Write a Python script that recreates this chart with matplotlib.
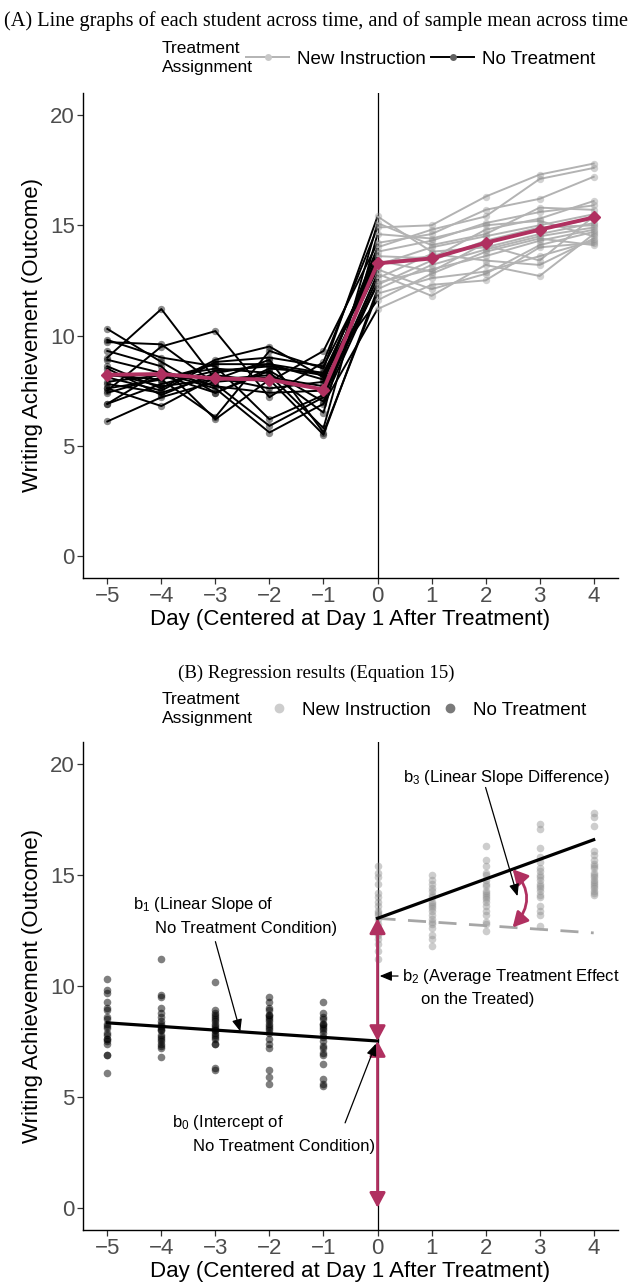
import numpy as np
import matplotlib
matplotlib.use("Agg")
import matplotlib.pyplot as plt
from matplotlib.lines import Line2D

plt.rcParams["font.family"] = ["Liberation Sans", "DejaVu Sans"]
plt.rcParams["mathtext.fontset"] = "custom"
plt.rcParams["mathtext.rm"] = "Liberation Sans"
plt.rcParams["mathtext.it"] = "Liberation Sans:italic"

# days centered at day 1 after treatment
days = [-5, -4, -3, -2, -1, 0, 1, 2, 3, 4]

# writing achievement of each of the 20 students, one list per day
score_m5 = [8.6, 10.3, 7.5, 9.0, 6.1, 8.2, 9.8, 7.8, 8.9, 6.9, 9.3, 7.6, 8.1, 9.7, 7.4, 8.5, 6.9, 8.3, 7.9, 7.6]
score_m4 = [7.6, 8.8, 9.5, 11.2, 7.2, 8.0, 9.0, 7.4, 8.3, 7.8, 8.6, 6.8, 7.5, 9.6, 8.1, 7.3, 8.4, 7.7, 8.2, 8.0]
score_m3 = [8.9, 7.4, 10.2, 8.0, 7.9, 6.3, 8.6, 8.2, 7.6, 8.4, 6.2, 8.1, 8.8, 7.8, 8.5, 8.3, 7.7, 8.0, 7.4, 8.7]
score_m2 = [9.5, 8.4, 7.2, 8.9, 8.1, 9.3, 6.2, 7.9, 5.6, 8.6, 8.0, 7.6, 9.0, 5.9, 8.3, 8.7, 7.4, 8.2, 8.5, 8.7]
score_m1 = [8.1, 7.0, 8.8, 5.6, 7.7, 8.5, 7.3, 9.3, 6.9, 8.2, 5.5, 7.9, 8.6, 7.2, 6.5, 8.0, 7.5, 5.8, 8.3, 8.3]
score_0 = [13.8, 12.4, 14.9, 11.9, 13.2, 15.4, 12.8, 14.2, 11.2, 13.6, 12.1, 14.0, 13.4, 12.6, 15.1, 13.0, 12.3, 14.6, 11.6, 13.3]
score_1 = [14.3, 13.0, 15.0, 12.6, 14.0, 13.8, 11.8, 14.6, 12.3, 13.5, 13.2, 14.8, 12.9, 13.7, 14.1, 12.1, 13.4, 14.4, 12.8, 13.6]
score_2 = [15.1, 13.6, 16.3, 12.9, 14.5, 14.0, 13.2, 15.7, 12.5, 14.8, 13.9, 15.4, 14.2, 13.4, 14.6, 12.8, 14.3, 15.0, 13.8, 14.1]
score_3 = [15.6, 14.3, 17.3, 13.6, 15.0, 14.6, 12.7, 16.2, 14.0, 15.3, 14.5, 17.1, 14.8, 13.2, 15.8, 14.1, 14.9, 15.2, 14.4, 13.4]
score_4 = [15.9, 14.8, 17.8, 14.3, 15.5, 15.1, 14.6, 17.2, 14.2, 16.1, 14.9, 17.6, 15.3, 14.4, 15.7, 14.7, 15.0, 14.5, 14.1, 15.4]

# regression coefficients (Equation 15)
b0, b1, b2, b3 = 7.52, -0.164, 5.53, 1.05

scores = np.array([score_m5, score_m4, score_m3, score_m2, score_m1,
                   score_0, score_1, score_2, score_3, score_4])
days_arr = np.array(days, dtype=float)
mean_score = scores.mean(axis=1)

MAROON = "#B03060"
LIGHT = "#B3B3B3"
W, H = 632, 1282


def box(left, top, right, bottom):
    return [left / W, 1 - bottom / H, (right - left) / W, (bottom - top) / H]


def style(ax):
    ax.set_xlim(-5.45, 4.45)
    ax.set_ylim(-1, 21)
    ax.set_xticks(days)
    ax.set_yticks([0, 5, 10, 15, 20])
    for s in ["top", "right"]:
        ax.spines[s].set_visible(False)
    for s in ["left", "bottom"]:
        ax.spines[s].set_linewidth(1.0)
    ax.tick_params(length=4, width=0.9, color="#333333", labelsize=16,
                   labelcolor="#4D4D4D", pad=2)
    ax.set_xlabel("Day (Centered at Day 1 After Treatment)", fontsize=16, labelpad=1)
    ax.set_ylabel("Writing Achievement (Outcome)", fontsize=16, labelpad=5)
    ax.axvline(0, color="black", lw=0.9, zorder=1)


def legend_title(y_px):
    fig.text(162 / W, 1 - y_px / H, "Treatment\nAssignment", ha="left", va="center",
             fontsize=12.5, linespacing=1.4)


fig = plt.figure(figsize=(W / 100, H / 100), dpi=100)

# ---------------- panel A ----------------
ax_a = fig.add_axes(box(83, 93, 618, 578))
style(ax_a)
for i in range(scores.shape[1]):
    y = scores[:, i]
    ax_a.plot(days_arr[:6], y[:6], color="black", lw=1.4, zorder=2)
    ax_a.plot(days_arr[5:], y[5:], color=LIGHT, lw=1.4, zorder=2)
for d, row in zip(days_arr, scores):
    c = "black" if d < 0 else "#909090"
    a = 0.45 if d < 0 else 0.4
    ax_a.scatter(np.full(row.size, d), row, s=28, color=c, alpha=a,
                 linewidths=0, zorder=3)
ax_a.plot(days_arr, mean_score, color=MAROON, lw=2.8, marker="D", ms=6.5, zorder=5)

fig.text(0.5, 1 - 21 / H,
         "(A) Line graphs of each student across time, and of sample mean across time",
         ha="center", va="center", fontsize=14.6, family="Liberation Serif")
legend_title(58)
h_a = [Line2D([], [], color=LIGHT, lw=1.4, marker="o", ms=5,
              markerfacecolor="#C8C8C8", markeredgewidth=0),
       Line2D([], [], color="black", lw=1.4, marker="o", ms=5,
              markerfacecolor="#606060", markeredgewidth=0)]
fig.legend(h_a, ["New Instruction", "No Treatment"], loc="center left",
           bbox_to_anchor=(246 / W, 1 - 59 / H), ncol=2, frameon=False,
           fontsize=13.5, handlelength=2.3, handletextpad=0.4, columnspacing=0.3,
           borderpad=0, borderaxespad=0)

# ---------------- panel B ----------------
ax_b = fig.add_axes(box(83, 742, 618, 1230))
style(ax_b)
for d, row in zip(days_arr, scores):
    c = "black" if d < 0 else "#909090"
    a = 0.5 if d < 0 else 0.45
    ax_b.scatter(np.full(row.size, d), row, s=30, color=c, alpha=a,
                 linewidths=0, zorder=2)

x_pre = np.array([-5.0, 0.0])
x_post = np.array([0.0, 4.0])
ax_b.plot(x_pre, b0 + b1 * x_pre, color="black", lw=2.3, zorder=4)
ax_b.plot(x_post, b0 + b2 + (b1 + b3) * x_post, color="black", lw=2.3, zorder=4)
ax_b.plot(x_post, b0 + b2 + b1 * x_post, color="#A6A6A6", lw=2.0,
          dashes=(6.5, 4.5), zorder=3)

arrow_m = dict(arrowstyle="<|-|>,head_length=0.6,head_width=0.32", color=MAROON,
               lw=2.0, mutation_scale=15, shrinkA=0, shrinkB=0)
ax_b.annotate("", xy=(0, 0), xytext=(0, b0), arrowprops=arrow_m, zorder=5)
ax_b.annotate("", xy=(0, b0 + b2), xytext=(0, b0), arrowprops=arrow_m, zorder=5)
xc = 2.5
ax_b.annotate("", xy=(xc, b0 + b2 + b1 * xc), xytext=(xc, b0 + b2 + (b1 + b3) * xc),
              arrowprops=dict(arrow_m, connectionstyle="arc3,rad=-0.45"), zorder=5)

arrow_k = dict(arrowstyle="-|>,head_length=0.6,head_width=0.25", color="black",
               lw=0.9, mutation_scale=12, shrinkA=0, shrinkB=0)
fs = 12
ax_b.text(-4.52, 13.67, "b$_1$ (Linear Slope of", fontsize=fs, va="center")
ax_b.text(-4.11, 12.6, "No Treatment Condition)", fontsize=fs, va="center")
ax_b.annotate("", xy=(-2.54, 7.95), xytext=(-3.0, 12.0), arrowprops=arrow_k, zorder=6)

ax_b.text(-3.8, 3.83, "b$_0$ (Intercept of", fontsize=fs, va="center")
ax_b.text(-3.41, 2.78, "No Treatment Condition)", fontsize=fs, va="center")
ax_b.annotate("", xy=(-0.03, 7.4), xytext=(-0.6, 3.83), arrowprops=arrow_k, zorder=6)

ax_b.text(0.45, 10.45, "b$_2$ (Average Treatment Effect", fontsize=fs, va="center")
ax_b.text(0.8, 9.37, "on the Treated)", fontsize=fs, va="center")
ax_b.annotate("", xy=(0.04, 10.45), xytext=(0.38, 10.45), arrowprops=arrow_k, zorder=6)

ax_b.text(0.48, 19.4, "b$_3$ (Linear Slope Difference)", fontsize=fs, va="center")
ax_b.annotate("", xy=(2.59, 14.05), xytext=(2.0, 18.95), arrowprops=arrow_k, zorder=6)

fig.text(0.5, 1 - 673 / H, "(B) Regression results (Equation 15)",
         ha="center", va="center", fontsize=13.6, family="Liberation Serif")
legend_title(709)
h_b = [Line2D([], [], ls="none", marker="o", ms=6, color="#CDCDCD"),
       Line2D([], [], ls="none", marker="o", ms=6, color="#7A7A7A")]
fig.legend(h_b, ["New Instruction", "No Treatment"], loc="center left",
           bbox_to_anchor=(266 / W, 1 - 710 / H), ncol=2, frameon=False,
           fontsize=13.5, handlelength=1.4, handletextpad=0.5, columnspacing=0.35,
           borderpad=0, borderaxespad=0)

fig.savefig("out.png", dpi=100)
